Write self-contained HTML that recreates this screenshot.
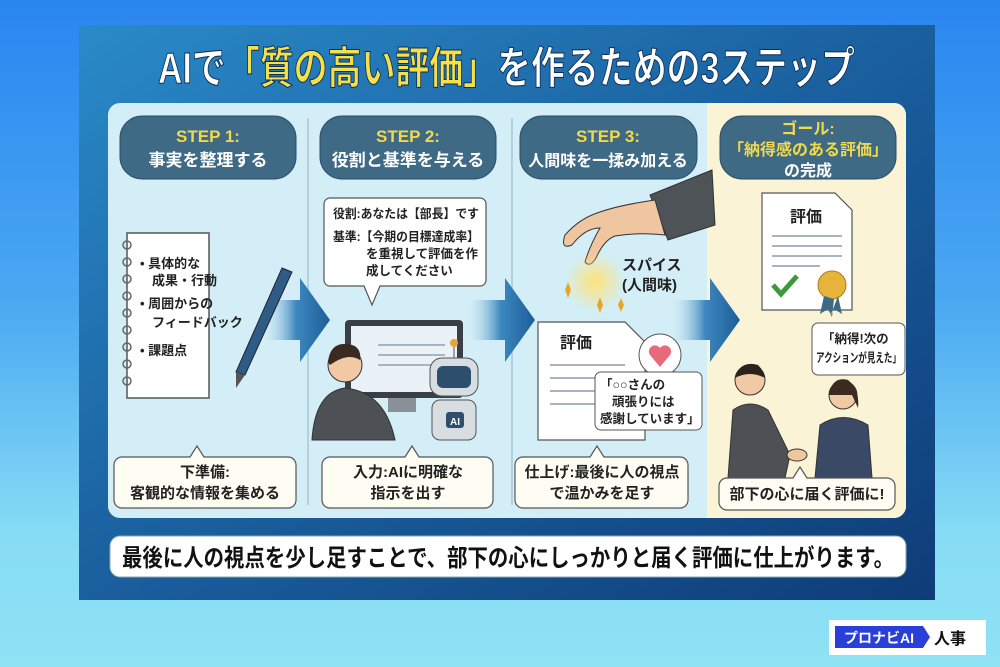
<!DOCTYPE html>
<html><head><meta charset="utf-8"><style>
html,body{margin:0;padding:0;width:1000px;height:667px;overflow:hidden}
body{background:linear-gradient(180deg,#2a86f0 0%,#4aa8f2 45%,#86dcf4 80%,#8ee2f4 100%)}
svg{display:block}
text{font-family:"Liberation Sans","Noto Sans CJK JP",sans-serif;font-weight:bold}
</style></head><body>
<svg width="1000" height="667" viewBox="0 0 1000 667" xmlns="http://www.w3.org/2000/svg">
<defs>
<linearGradient id="pn" x1="0" y1="0" x2="1" y2="1">
<stop offset="0" stop-color="#2a8ac8"/><stop offset="0.5" stop-color="#1a5f9e"/><stop offset="1" stop-color="#0e3c78"/></linearGradient>
<linearGradient id="ar" x1="0" y1="0" x2="1" y2="0">
<stop offset="0" stop-color="#cfe9f4" stop-opacity="0"/><stop offset="0.5" stop-color="#3d88c0"/><stop offset="1" stop-color="#1d5d98"/></linearGradient>
<radialGradient id="glow"><stop offset="0" stop-color="#ffe27a"/><stop offset="1" stop-color="#ffe27a" stop-opacity="0"/></radialGradient>
</defs>
<rect x="79" y="25" width="856" height="575" fill="url(#pn)"/>
<!-- title -->
<text x="158" y="83" font-size="44" fill="#fff" stroke="#0b2c55" stroke-width="1" textLength="697" lengthAdjust="spacingAndGlyphs">AIで<tspan fill="#f6e04a">「質の高い評価」</tspan>を作るための3ステップ</text>
<!-- inner card -->
<rect x="108" y="103" width="798" height="415" rx="12" fill="#d3eef6"/>
<path d="M707 103 H894 a12 12 0 0 1 12 12 V506 a12 12 0 0 1 -12 12 H707 Z" fill="#fbf3d6"/>
<line x1="308" y1="118" x2="308" y2="505" stroke="#a9c9d6" stroke-width="1.5"/>
<line x1="512" y1="118" x2="512" y2="505" stroke="#a9c9d6" stroke-width="1.5"/>
<!-- step pills -->
<g fill="#3f6a86" stroke="#2a4f68" stroke-width="1">
<rect x="120" y="116" width="176" height="63" rx="22"/>
<rect x="320" y="116" width="176" height="63" rx="22"/>
<rect x="520" y="116" width="177" height="63" rx="22"/>
<rect x="720" y="116" width="176" height="63" rx="22"/>
</g>
<g font-size="17" text-anchor="middle">
<text x="208" y="142" fill="#f1d94a">STEP 1:</text><text x="208" y="166" fill="#fff">事実を整理する</text>
<text x="408" y="142" fill="#f1d94a">STEP 2:</text><text x="408" y="166" fill="#fff">役割と基準を与える</text>
<text x="608" y="142" fill="#f1d94a">STEP 3:</text><text x="608" y="166" fill="#fff" font-size="16">人間味を一揉み加える</text>
<text x="808" y="134" fill="#f1d94a" font-size="16">ゴール:</text><text x="808" y="155" fill="#f1d94a" font-size="16">「納得感のある評価」</text><text x="808" y="176" fill="#fff" font-size="16">の完成</text>
</g>
<!-- arrows -->
<g fill="url(#ar)">
<path d="M262 300 H300 V278 L330 320 L300 362 V340 H262 Z"/>
<path d="M466 300 H505 V278 L535 320 L505 362 V340 H466 Z"/>
<path d="M670 300 H710 V278 L740 320 L710 362 V340 H670 Z"/>
</g>
<!-- notebook -->
<rect x="127" y="233" width="82" height="165" fill="#fff" stroke="#555" stroke-width="1.5"/>
<g fill="none" stroke="#666" stroke-width="1.5">
<circle cx="127" cy="245" r="4"/><circle cx="127" cy="262" r="4"/><circle cx="127" cy="279" r="4"/><circle cx="127" cy="296" r="4"/><circle cx="127" cy="313" r="4"/><circle cx="127" cy="330" r="4"/><circle cx="127" cy="347" r="4"/><circle cx="127" cy="364" r="4"/><circle cx="127" cy="381" r="4"/></g>
<g font-size="13" fill="#222">
<text x="140" y="268">• 具体的な</text><text x="152" y="285">成果・行動</text>
<text x="140" y="308">• 周囲からの</text><text x="152" y="327">フィードバック</text>
<text x="140" y="355">• 課題点</text></g>
<path d="M282 268 L292 272 L245 375 L236 372 Z" fill="#2f5c86" stroke="#223" stroke-width="1"/>
<path d="M236 372 L245 375 L236 388 Z" fill="#555"/>
<!-- step2 bubble -->
<path d="M330 198 H480 a6 6 0 0 1 6 6 V280 a6 6 0 0 1 -6 6 H380 L372 305 L364 286 H330 a6 6 0 0 1 -6 -6 V204 a6 6 0 0 1 6 -6Z" fill="#fff" stroke="#555" stroke-width="1.2"/>
<g font-size="12.5" fill="#222"><text x="333" y="218" textLength="146" lengthAdjust="spacingAndGlyphs">役割:あなたは【部長】です</text><text x="333" y="241" textLength="146" lengthAdjust="spacingAndGlyphs">基準:【今期の目標達成率】</text><text x="366" y="258" textLength="112" lengthAdjust="spacingAndGlyphs">を重視して評価を作</text><text x="366" y="275">成してください</text></g>
<!-- monitor -->
<rect x="345" y="320" width="118" height="78" rx="4" fill="#3a3f46"/>
<rect x="351" y="326" width="106" height="66" fill="#eaf2f8"/>
<rect x="388" y="398" width="28" height="14" fill="#8a9097"/>
<g stroke="#a8b4c0" stroke-width="2"><line x1="378" y1="345" x2="445" y2="345"/><line x1="378" y1="355" x2="445" y2="355"/><line x1="378" y1="365" x2="440" y2="365"/></g>
<!-- person -->
<circle cx="345" cy="365" r="17" fill="#f1c9a5" stroke="#333"/>
<path d="M328 362 Q330 342 348 344 Q362 346 360 360 Q348 352 330 365Z" fill="#3a2a20"/>
<path d="M312 440 Q315 392 345 388 Q385 392 395 440 Z" fill="#4d5155" stroke="#333"/>
<!-- robot -->
<rect x="430" y="358" width="48" height="38" rx="12" fill="#d8dde2" stroke="#555"/>
<rect x="437" y="366" width="34" height="22" rx="6" fill="#2e4e6e"/>
<line x1="454" y1="358" x2="454" y2="346" stroke="#555"/><circle cx="454" cy="343" r="4" fill="#e8a33a"/>
<rect x="432" y="400" width="44" height="40" rx="8" fill="#d8dde2" stroke="#555"/>
<rect x="446" y="412" width="18" height="16" rx="3" fill="#2e4e6e"/><text x="455" y="425" font-size="10" fill="#fff" text-anchor="middle">AI</text>
<!-- hand -->
<path d="M650 195 L712 170 L715 225 L668 240 Z" fill="#4e5358" stroke="#333"/>
<path d="M655 200 Q620 205 600 212 Q580 218 565 235 Q560 250 572 245 Q585 228 600 228 Q590 245 585 262 Q590 268 596 258 Q604 240 615 236 Q640 232 665 235 Z" fill="#f0c6a0" stroke="#333"/>
<circle cx="595" cy="282" r="30" fill="url(#glow)"/>
<g fill="#e9a42b"><path d="M565 290 l3 -8 l3 8 l-3 8z"/><path d="M597 305 l3 -8 l3 8 l-3 8z"/><path d="M618 305 l3 -7 l3 7 l-3 7z"/></g>
<text x="622" y="270" font-size="15" fill="#222">スパイス</text><text x="622" y="290" font-size="15" fill="#222">(人間味)</text>
<!-- step3 doc -->
<path d="M538 322 H625 L645 342 V440 H538 Z" fill="#fff" stroke="#555" stroke-width="1.2"/>
<text x="560" y="348" font-size="16" fill="#222">評価</text>
<g stroke="#a8b4c0" stroke-width="2"><line x1="550" y1="365" x2="625" y2="365"/><line x1="550" y1="378" x2="625" y2="378"/><line x1="550" y1="391" x2="610" y2="391"/><line x1="550" y1="404" x2="600" y2="404"/></g>
<circle cx="660" cy="355" r="21" fill="#fff" stroke="#555"/>
<path d="M660 367 L650 355 a6 6 0 0 1 10 -7 a6 6 0 0 1 10 7Z" fill="#e76a7a"/>
<rect x="595" y="372" width="107" height="58" rx="6" fill="#fff" stroke="#555"/>
<g font-size="12.5" fill="#222"><text x="600" y="389">「○○さんの</text><text x="612" y="406">頑張りには</text><text x="600" y="423">感謝しています」</text></g>
<!-- goal doc -->
<path d="M762 193 H835 L852 210 V310 H762 Z" fill="#fff" stroke="#555" stroke-width="1.2"/>
<text x="790" y="222" font-size="16" fill="#222">評価</text>
<g stroke="#a8b4c0" stroke-width="2"><line x1="772" y1="236" x2="842" y2="236"/><line x1="772" y1="246" x2="842" y2="246"/><line x1="772" y1="256" x2="842" y2="256"/><line x1="772" y1="266" x2="820" y2="266"/></g>
<path d="M773 285 l8 9 l16 -18" fill="none" stroke="#3a9a3a" stroke-width="5"/>
<circle cx="832" cy="285" r="14" fill="#e6b43a" stroke="#b07c18"/>
<path d="M824 296 l-4 18 l8 -5 l4 8 l2 -18Z M838 296 l4 18 l-8 -5 l-4 8" fill="#3f6a86"/>
<rect x="812" y="323" width="93" height="52" rx="6" fill="#fff" stroke="#555"/>
<g font-size="12.5" fill="#222"><text x="822" y="343">「納得!次の</text><text x="816" y="362" textLength="85" lengthAdjust="spacingAndGlyphs">アクションが見えた」</text></g>
<!-- people -->
<circle cx="750" cy="380" r="15" fill="#f1c9a5" stroke="#333"/><path d="M735 378 Q740 360 758 365 Q765 372 765 378 Q750 370 735 378Z" fill="#2c221c"/>
<path d="M728 478 L733 410 Q750 398 768 410 L790 455 L785 478Z" fill="#4d5155" stroke="#333"/>
<circle cx="843" cy="395" r="14" fill="#f1c9a5" stroke="#333"/><path d="M829 395 Q832 376 848 380 Q860 390 858 408 L852 395Z" fill="#3a2a20"/>
<path d="M815 478 L820 425 Q843 410 868 425 L872 478Z" fill="#3a4a66" stroke="#333"/>
<ellipse cx="797" cy="455" rx="10" ry="6" fill="#f0c6a0" stroke="#333"/>
<!-- bottom pills -->
<g fill="#fffdf3" stroke="#555" stroke-width="1.2">
<path d="M122 457 H190 L197 446 L204 457 H288 a8 8 0 0 1 8 8 V500 a8 8 0 0 1 -8 8 H122 a8 8 0 0 1 -8 -8 V465 a8 8 0 0 1 8 -8Z"/>
<path d="M330 457 H405 L412 446 L419 457 H485 a8 8 0 0 1 8 8 V500 a8 8 0 0 1 -8 8 H330 a8 8 0 0 1 -8 -8 V465 a8 8 0 0 1 8 -8Z"/>
<path d="M523 457 H590 L597 446 L604 457 H680 a8 8 0 0 1 8 8 V500 a8 8 0 0 1 -8 8 H523 a8 8 0 0 1 -8 -8 V465 a8 8 0 0 1 8 -8Z"/>
<path d="M727 478 H793 L800 467 L807 478 H887 a8 8 0 0 1 8 8 V502 a8 8 0 0 1 -8 8 H727 a8 8 0 0 1 -8 -8 V486 a8 8 0 0 1 8 -8Z"/>
</g>
<g font-size="15" fill="#222" text-anchor="middle">
<text x="205" y="477">下準備:</text><text x="205" y="498">客観的な情報を集める</text>
<text x="408" y="477">入力:AIに明確な</text><text x="408" y="498">指示を出す</text>
<text x="602" y="477">仕上げ:最後に人の視点</text><text x="602" y="498">で温かみを足す</text>
<text x="807" y="499">部下の心に届く評価に!</text>
</g>
<!-- banner -->
<rect x="110" y="536" width="796" height="41" rx="10" fill="#fff" stroke="#8aa" stroke-width="1"/>
<text x="122" y="566" font-size="24" fill="#111" textLength="772" lengthAdjust="spacingAndGlyphs">最後に人の視点を少し足すことで、部下の心にしっかりと届く評価に仕上がります。</text>
<!-- logo -->
<rect x="829" y="620" width="157" height="35" fill="#fff"/>
<path d="M835 626 H923 L930 637 L923 648 H835Z" fill="#2a3fd8"/>
<text x="879" y="643" font-size="14" fill="#fff" text-anchor="middle">プロナビAI</text>
<text x="934" y="644" font-size="16" fill="#111">人事</text>
</svg>
</body></html>
